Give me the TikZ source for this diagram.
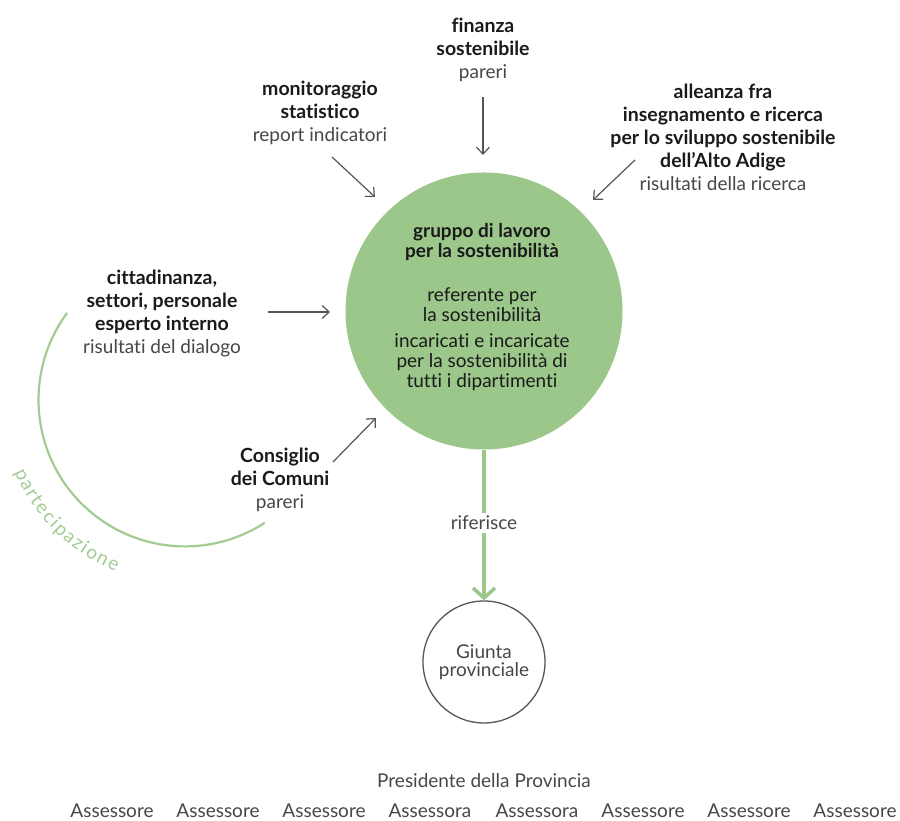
\documentclass[tikz,border=0pt]{standalone}
\usepackage{fontspec}
\setmainfont{Lato}[Ligatures={NoCommon,NoContextual}]
\usetikzlibrary{arrows.meta,decorations.text}
\definecolor{gfill}{HTML}{9CC78A}
\definecolor{garc}{HTML}{A3CC92}
\definecolor{gtext}{HTML}{A3CC92}
\definecolor{txtdark}{HTML}{1A1A1A}
\definecolor{txtgray}{HTML}{474747}
\definecolor{arrgray}{HTML}{555555}
\begin{document}
\begin{tikzpicture}[x=1pt,y=1pt,
  every node/.style={inner sep=0pt, align=center, text=txtgray,
    font=\fontsize{19}{23}\selectfont},
  blk/.style={},
  incirc/.style={font=\fontsize{19}{20}\selectfont, text=txtdark},
  feed/.style={draw=arrgray, line width=1.2pt, -{Straight Barb[length=7pt,width=13pt]}},
  garrow/.style={draw=gfill, line width=3.5pt, -{Straight Barb[length=10pt,width=22pt]}}
]
\newcommand{\hb}[1]{\textcolor{txtdark}{\fontsize{19.5}{23}\selectfont\bfseries #1}}
\useasboundingbox[fill=white] (0,0) rectangle (900,821);

% central circle
\node[circle, fill=gfill, minimum size=277pt] (wg) at (484,510) {};
\node[incirc] (wg1) at (482,579) {\bfseries gruppo di lavoro\\\bfseries per la sostenibilità};
\node[incirc] (wg2) at (482,516) {referente per\\la sostenibilità};
\node[incirc] (wg3) at (482,459) {incaricati e incaricate\\per la sostenibilità di\\tutti i dipartimenti};

% feeding blocks
\node[blk] (fin) at (483,771.5) {\hb{finanza}\\\hb{sostenibile}\\pareri};
\node[blk] (mon) at (320,708.5) {\hb{monitoraggio}\\\hb{statistico}\\report indicatori};
\node[blk] (all) at (723,683.5) {\hb{alleanza fra}\\\hb{insegnamento e ricerca}\\\hb{per lo sviluppo sostenibile}\\\hb{dell’Alto Adige}\\risultati della ricerca};
\node[blk] (cit) at (162,507.5) {\hb{cittadinanza,}\\\hb{settori, personale}\\\hb{esperto interno}\\risultati del dialogo};
\node[blk] (con) at (280,341) {\hb{Consiglio}\\\hb{dei Comuni}\\pareri};

% arrow end points
\coordinate (finS) at (483,724);  \coordinate (finE) at (483,666);
\coordinate (monS) at (332,664);  \coordinate (monE) at (375,624);
\coordinate (allS) at (635,661);  \coordinate (allE) at (593,621);
\coordinate (citS) at (268,509);  \coordinate (citE) at (330,509);
\coordinate (conS) at (333,359);  \coordinate (conE) at (376,403);
\draw[feed] (finS) -- (finE);
\draw[feed] (monS) -- (monE);
\draw[feed] (allS) -- (allE);
\draw[feed] (citS) -- (citE);
\draw[feed] (conS) -- (conE);

% participation arc
\coordinate (arcS) at (67.1,508);
\draw[garc, line width=2.2pt] (arcS) arc[start angle=143.6, end angle=303, radius=146.5];
\coordinate (txtS) at ({185+185*cos(203)},{421+185*sin(203)});
\path[decorate, decoration={text along path, text align={fit to path},
   text={|\fontsize{19}{20}\selectfont\color{gtext}|partecipazione}}]
   (txtS) arc[start angle=203, end angle=248, radius=185];

% Giunta
\node[circle, draw=arrgray, line width=1.3pt, minimum size=122pt,
      font=\fontsize{19}{18}\selectfont] (giunta) at (484,159) {Giunta\\provinciale};
\draw[garrow] (wg.south) -- (giunta.north);
\node[fill=white, inner sep=3pt] (rif) at (484,298) {riferisce};

% bottom rows
\node (pres) at (484,40) {Presidente della Provincia};
\foreach \i/\x/\t in {1/112/Assessore,2/218/Assessore,3/324/Assessore,4/430/Assessora,
                      5/537/Assessora,6/643/Assessore,7/749/Assessore,8/855/Assessore}
  \node (a\i) at (\x,10) {\t};
\end{tikzpicture}
\end{document}
